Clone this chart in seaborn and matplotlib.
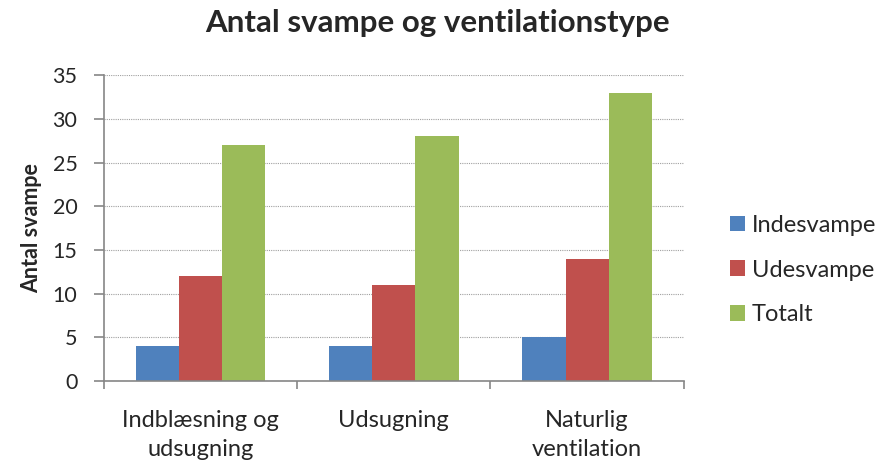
import matplotlib
matplotlib.use("Agg")
import matplotlib.pyplot as plt
import seaborn as sns
import pandas as pd
import numpy as np

categories = ["Indblæsning og\nudsugning", "Udsugning", "Naturlig\nventilation"]
series_names = ["Indesvampe", "Udesvampe", "Totalt"]
indesvampe = [4, 4, 5]
udesvampe = [12, 11, 14]
totalt = [27, 28, 33]
colors = ["#4F81BD", "#C0504D", "#9BBB59"]
yticks = [0, 5, 10, 15, 20, 25, 30, 35]

rows = []
for name, vals in zip(series_names, [indesvampe, udesvampe, totalt]):
    for c, v in zip(categories, vals):
        rows.append({"cat": c, "series": name, "value": v})
df = pd.DataFrame(rows)

sns.set_theme(style="white")
plt.rcParams['font.family'] = ['Lato', 'DejaVu Sans']

fig = plt.figure(figsize=(8.8, 4.66), dpi=100)
ax = fig.add_axes([0.118, 0.182, 0.659, 0.657])

sns.barplot(data=df, x="cat", y="value", hue="series", palette=colors,
            order=categories, hue_order=series_names, width=0.67,
            saturation=1, ax=ax, edgecolor="none")

ax.set_ylim(0, 35)
ax.set_xlim(-0.5, 2.5)
ax.set_yticks(yticks)
ax.set_yticklabels([str(t) for t in yticks], fontsize=15.5)
ax.yaxis.grid(True, linestyle=(0, (1, 1)), color="#A0A0A0", linewidth=0.8)
ax.set_axisbelow(True)

ax.set_xticks(range(len(categories)))
ax.set_xticklabels(categories, fontsize=17, linespacing=1.45)
ax.tick_params(axis="x", length=0, pad=21)
ax.set_xticks([-0.5, 0.5, 1.5, 2.5], minor=True)
ax.tick_params(axis="x", which="minor", length=6, color="#868686", width=1.2, direction="out", bottom=True)
ax.tick_params(axis="y", length=7, color="#868686", width=1.2, direction="out", left=True, pad=12)

for s in ["top", "right"]:
    ax.spines[s].set_visible(False)
for s in ["left", "bottom"]:
    ax.spines[s].set_color("#868686")
    ax.spines[s].set_linewidth(1.2)

ax.set_xlabel("")
ax.set_ylabel("Antal svampe", fontsize=15.5, fontweight="bold")
ax.yaxis.set_label_coords(-0.106, 0.5)

fig.suptitle("Antal svampe og ventilationstype", fontsize=22.5, fontweight="bold", x=0.497, y=0.98)

leg = ax.legend(loc="center left", bbox_to_anchor=(1.063, 0.363), frameon=False,
                fontsize=17, handlelength=0.64, handleheight=0.64, labelspacing=1.0,
                handletextpad=0.3, borderaxespad=0)

fig.savefig("out.png", dpi=100)
